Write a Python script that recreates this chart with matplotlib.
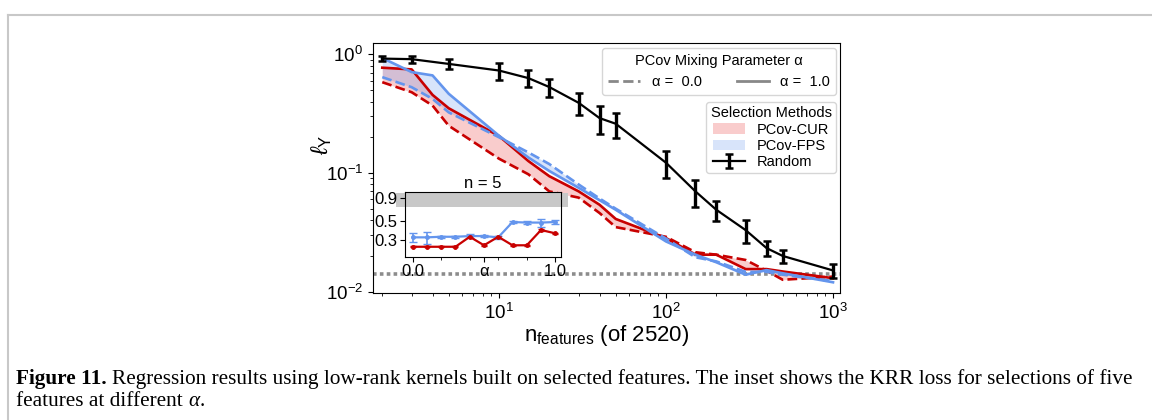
import numpy as np
import matplotlib
matplotlib.use("Agg")
import matplotlib.pyplot as plt
from matplotlib.lines import Line2D
from matplotlib.patches import Patch

plt.rcParams['font.family'] = ['Liberation Sans', 'DejaVu Sans']
plt.rcParams['mathtext.fontset'] = 'custom'
plt.rcParams['mathtext.rm'] = 'Liberation Sans'
plt.rcParams['mathtext.it'] = 'Liberation Sans:italic'
plt.rcParams['mathtext.bf'] = 'Liberation Sans:bold'
plt.rcParams['axes.unicode_minus'] = False

# number of selected features
n_feat = [2, 3, 4, 5, 10, 15, 20, 30, 40, 50, 100, 150, 200, 300, 400, 500, 1000]
# PCov-CUR, alpha = 1.0 / 0.0
cur_a1 = [0.771, 0.746, 0.455, 0.351, 0.205, 0.126, 0.094, 0.070, 0.054, 0.041,
          0.0283, 0.0205, 0.0205, 0.0155, 0.0155, 0.0148, 0.0130]
cur_a0 = [0.582, 0.479, 0.370, 0.250, 0.132, 0.0975, 0.070, 0.062, 0.046, 0.035,
          0.029, 0.0215, 0.0205, 0.0185, 0.0150, 0.0126, 0.0134]
# PCov-FPS, alpha = 1.0 / 0.0
fps_a1 = [0.93, 0.708, 0.664, 0.465, 0.206, 0.135, 0.104, 0.075, 0.059, 0.049,
          0.0265, 0.0205, 0.0177, 0.0139, 0.0152, 0.0143, 0.0120]
fps_a0 = [0.642, 0.528, 0.421, 0.324, 0.200, 0.149, 0.119, 0.080, 0.061, 0.050,
          0.028, 0.0195, 0.018, 0.0147, 0.0147, 0.0139, 0.0123]
# random selection
n_rand = [2, 3, 5, 10, 15, 20, 30, 40, 50, 100, 150, 200, 300, 400, 500, 1000]
rand_mean = [0.92, 0.91, 0.83, 0.73, 0.63, 0.53, 0.39, 0.29, 0.26, 0.122, 0.070,
             0.049, 0.033, 0.0233, 0.020, 0.0151]
rand_err = [0.045, 0.062, 0.081, 0.121, 0.104, 0.093, 0.084, 0.076, 0.063, 0.032,
            0.018, 0.0096, 0.0071, 0.0032, 0.0025, 0.0021]
full_loss = 0.0141   # dotted reference line

# inset: n = 5 at different alpha
alphas = [0.0, 0.1, 0.2, 0.3, 0.4, 0.5, 0.6, 0.7, 0.8, 0.9, 1.0]
in_fps = [0.322, 0.322, 0.327, 0.327, 0.333, 0.333, 0.322, 0.483, 0.476, 0.476, 0.483]
in_fps_err = [0.038, 0.051, 0.010, 0.010, 0.015, 0.010, 0.010, 0.013, 0.020, 0.050, 0.020]
in_cur = [0.251, 0.251, 0.251, 0.251, 0.327, 0.261, 0.327, 0.261, 0.261, 0.391, 0.358]
in_cur_err = [0.004, 0.004, 0.004, 0.004, 0.005, 0.004, 0.005, 0.004, 0.004, 0.006, 0.005]
band_lo, band_hi = 0.72, 1.03   # random selection range at n = 5

red = '#c80000'
blue = '#6495ed'

fig = plt.figure(figsize=(11.52, 4.2), dpi=100)

# page-like border (top and left)
fig.add_artist(Line2D([8/1152, 8/1152], [0, 1-15/420], color='#c8c8c8', lw=1.5))
fig.add_artist(Line2D([8/1152, 1], [1-15/420, 1-15/420], color='#c8c8c8', lw=1.5))

ax = fig.add_axes([373/1152, 1-293/420, 467/1152, 250/420])
ax.set_xscale('log')
ax.set_yscale('log')

ax.fill_between(n_feat, cur_a0, cur_a1, color='lightcoral', alpha=0.4, lw=0)
ax.fill_between(n_feat, fps_a0, fps_a1, color=blue, alpha=0.25, lw=0)
ax.plot(n_feat, cur_a1, color=red, lw=1.9)
ax.plot(n_feat, cur_a0, color=red, lw=1.9, ls='--')
ax.plot(n_feat, fps_a1, color=blue, lw=1.9)
ax.plot(n_feat, fps_a0, color=blue, lw=1.9, ls='--')
rnd = ax.errorbar(n_rand, rand_mean, yerr=rand_err, color='black', lw=1.6,
                  elinewidth=2.4, capsize=3, capthick=1.8)
ax.axhline(full_loss, color='#8c8c8c', lw=2.6, ls=(0, (1, 0.9)), zorder=1)

ax.set_xlim(1.76, 1101)
ax.set_ylim(0.00975, 1.245)
ax.tick_params(labelsize=13.5)
ax.set_xlabel(r'n$_{\mathrm{features}}$ (of 2520)', fontsize=16, labelpad=0)
ax.set_ylabel(r'$\ell_{\mathrm{Y}}$', fontsize=17)
ax.yaxis.set_label_coords(-0.083, 0.592)

leg1 = ax.legend([Line2D([], [], color='#888888', lw=2, ls='--'),
                  Line2D([], [], color='#888888', lw=2)],
                 [u'\u03b1 =  0.0', u'\u03b1 =  1.0'], ncol=2,
                 title=u'PCov Mixing Parameter \u03b1', fontsize=10.5,
                 title_fontsize=10.5, loc='upper right', borderaxespad=0,
                 bbox_to_anchor=(0.9914, 0.98), handlelength=2.2,
                 columnspacing=2.4, handletextpad=0.8)
ax.add_artist(leg1)
ax.legend([Patch(color='lightcoral', alpha=0.4, lw=0),
           Patch(color=blue, alpha=0.25, lw=0), rnd],
          ['PCov-CUR', 'PCov-FPS', 'Random'], title='Selection Methods',
          fontsize=10.5, title_fontsize=10.5, loc='upper right', borderaxespad=0,
          bbox_to_anchor=(0.9914, 0.764), handlelength=2.2, labelspacing=0.15,
          borderpad=0.3)

# inset
axi = fig.add_axes([405/1152, 1-256.7/420, 156/1152, 65/420])
axi.set_yscale('log')
axi.fill_between([-0.12, 1.09], band_lo, band_hi, color='#c8c8c8', lw=0,
                 clip_on=False, zorder=0)
axi.errorbar(alphas, in_fps, yerr=in_fps_err, color=blue, lw=1.6, marker='.',
             ms=5, capsize=3, elinewidth=1.2)
axi.errorbar(alphas, in_cur, yerr=in_cur_err, color=red, lw=1.6, marker='.',
             ms=5, capsize=2, elinewidth=1.2)
axi.set_xlim(-0.054, 1.04)
axi.set_ylim(0.193, 1.077)
axi.set_yticks([0.3, 0.5, 0.9])
axi.set_yticklabels(['0.3', '0.5', '0.9'])
axi.yaxis.set_minor_locator(matplotlib.ticker.NullLocator())
axi.set_xticks([0.0, 0.5, 1.0])
axi.set_xticklabels(['0.0', u'\u03b1', '1.0'])
axi.set_xticks([0.2, 0.4, 0.6, 0.8], minor=True)
axi.tick_params(labelsize=12, pad=2)
axi.set_title('n = 5', fontsize=12, pad=3)

# caption
fig.canvas.draw()
renderer = fig.canvas.get_renderer()
W = fig.get_figwidth() * fig.dpi

def text_width(s, **kw):
    t = fig.text(0, 0, s, **kw)
    w = t.get_window_extent(renderer).width
    t.remove()
    return w

cap_font = dict(family='Liberation Serif', fontsize=15.3)
space = (text_width('a a', **cap_font) - text_width('aa', **cap_font)) / W

line1 = [('Figure 11.', dict(cap_font, weight='bold')), (None, None),
         ('Regression results using low-rank kernels built on selected features. '
          'The inset shows the KRR loss for selections of five', cap_font)]
line2 = [('features at different', cap_font), (None, None),
         (u'\u03b1', dict(cap_font, style='italic')), ('.', cap_font)]

for y_px, pieces in [(379, line1), (402, line2)]:
    x = 16 / 1152
    for s, kw in pieces:
        if s is None:
            x += space
            continue
        t = fig.text(x, 1 - y_px/420, s, va='center', ha='left', **kw)
        x += t.get_window_extent(renderer).width / W

fig.savefig('out.png', dpi=100)
